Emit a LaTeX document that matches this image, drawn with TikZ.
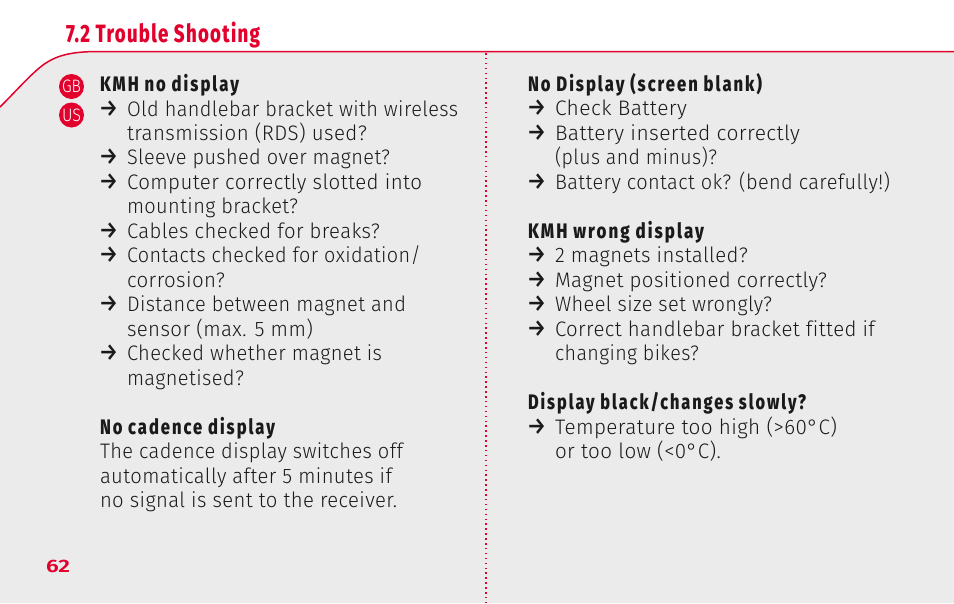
\documentclass[tikz,border=0pt]{standalone}
\usepackage{graphicx}
\usepackage{fontspec}
\newfontfamily\bodyfont[LetterSpace=2,RawFeature={-liga;-clig}]{Fira Sans Light}
\newfontfamily\headfont[LetterSpace=12,RawFeature={-liga;-clig}]{Fira Sans ExtraBold}
\newfontfamily\titlefont[LetterSpace=7]{Fira Sans ExtraBold}
\newfontfamily\pagefont{Fira Sans SemiBold}
\newfontfamily\badgefont{Fira Sans Light}
\newfontfamily\arrowfont{Fira Sans Medium}
\definecolor{brandred}{HTML}{E2002D}
\definecolor{panel}{HTML}{EBEBEB}
\definecolor{ink}{HTML}{1A1A1A}
\newcommand{\fitw}[2]{\resizebox{#1pt}{\height}{#2}}
% name, x, baseline, right end, text
\newcommand{\bodyline}[5]{%
  \pgfmathsetmacro{\linew}{#4-#2}%
  \node[txt,font=\bodyfont\fontsize{21}{21}\selectfont] (#1) at (#2,#3) {\fitw{\linew}{#5}};}
\newcommand{\headline}[5]{%
  \pgfmathsetmacro{\linew}{#4-#2}%
  \node[txt,font=\headfont\fontsize{21}{21}\selectfont] (#1) at (#2,#3) {\fitw{\linew}{#5}};}
\newcommand{\arrowmark}[3]{%
  \node[txt,font=\arrowfont\fontsize{24}{24}\selectfont] (#1) at (#2-1,#3) {\fitw{19}{→}};}
\tikzset{
  txt/.style={anchor=base west,inner sep=0pt,outer sep=0pt,text=ink},
  badge/.style={circle,fill=brandred,minimum size=25pt,inner sep=0pt,text=white,font=\badgefont\fontsize{18}{18}\selectfont}
}
\begin{document}
\begin{tikzpicture}[x=1pt,y=-1pt]
\useasboundingbox (0,0) rectangle (954,603);
\fill[white] (0,0) rectangle (954,603);
\fill[panel] (0,107) .. controls (20,87) and (30,75) .. (43,65) .. controls (58,54) and (75,51.5) .. (100,51.5) -- (954,51.5) -- (954,603) -- (0,603) -- cycle;
\draw[brandred,line width=1.5pt] (0,107) .. controls (20,87) and (30,75) .. (43,65) .. controls (58,54) and (75,51.5) .. (100,51.5) -- (954,51.5);
\draw[brandred,line width=1.5pt,dash pattern=on 1.5pt off 3.4pt] (486,53) -- (486,603);
\node[txt,text=brandred,font=\titlefont\fontsize{25}{25}\selectfont] (title) at (66,42) {\fitw{194}{7.2 Trouble Shooting}};
\node[badge] (gb) at (71.5,86.5) {\fitw{19}{GB}};
\node[badge] (us) at (71.5,115) {\fitw{19}{US}};
\node[txt,text=brandred,font=\pagefont\fontsize{18}{18}\selectfont] (page) at (46,572) {\fitw{24}{62}};
% left column
\headline{a0}{100}{91}{239}{KMH no display}
\arrowmark{m1}{100}{116}
\bodyline{a1}{127}{116}{458}{Old handlebar bracket with wireless}
\bodyline{a2}{127}{140}{367}{transmission (RDS) used?}
\arrowmark{m2}{100}{164.5}
\bodyline{a3}{127}{164.5}{390}{Sleeve pushed over magnet?}
\arrowmark{m3}{100}{189}
\bodyline{a4}{127}{189}{422}{Computer correctly slotted into}
\bodyline{a5}{127}{213}{298}{mounting bracket?}
\arrowmark{m4}{100}{238}
\bodyline{a6}{127}{238}{380}{Cables checked for breaks?}
\arrowmark{m5}{100}{262}
\bodyline{a7}{127}{262}{421}{Contacts checked for oxidation/}
\bodyline{a8}{127}{287}{225}{corrosion?}
\arrowmark{m6}{100}{311}
\bodyline{a9}{127}{311}{406}{Distance between magnet and}
\bodyline{a10}{127}{336}{313}{sensor (max. 5 mm)}
\arrowmark{m7}{100}{360}
\bodyline{a11}{127}{360}{382}{Checked whether magnet is}
\bodyline{a12}{127}{385}{244}{magnetised?}
\headline{a13}{100}{434}{275}{No cadence display}
\bodyline{a14}{100}{458}{403}{The cadence display switches off}
\bodyline{a15}{100}{483}{392}{automatically after 5 minutes if}
\bodyline{a16}{100}{507}{397}{no signal is sent to the receiver.}
% right column
\headline{b0}{528}{91}{762}{No Display (screen blank)}
\arrowmark{n1}{528}{115}
\bodyline{b1}{555}{115}{687}{Check Battery}
\arrowmark{n2}{528}{140}
\bodyline{b2}{555}{140}{800}{Battery inserted correctly}
\bodyline{b3}{555}{164}{717}{(plus and minus)?}
\arrowmark{n3}{528}{189}
\bodyline{b4}{555}{189}{890}{Battery contact ok? (bend carefully!)}
\headline{b5}{528}{238}{704}{KMH wrong display}
\arrowmark{n4}{528}{262}
\bodyline{b6}{555}{262}{748}{2 magnets installed?}
\arrowmark{n5}{528}{287}
\bodyline{b7}{555}{287}{827}{Magnet positioned correctly?}
\arrowmark{n6}{528}{311}
\bodyline{b8}{555}{311}{772}{Wheel size set wrongly?}
\arrowmark{n7}{528}{336}
\bodyline{b9}{555}{336}{875}{Correct handlebar bracket fitted if}
\bodyline{b10}{555}{360}{699}{changing bikes?}
\headline{b11}{528}{409}{806}{Display black/changes slowly?}
\arrowmark{n8}{528}{434}
\bodyline{b12}{555}{434}{837}{Temperature too high (>60°C)}
\bodyline{b13}{555}{458}{721}{or too low (<0°C).}
\end{tikzpicture}
\end{document}
